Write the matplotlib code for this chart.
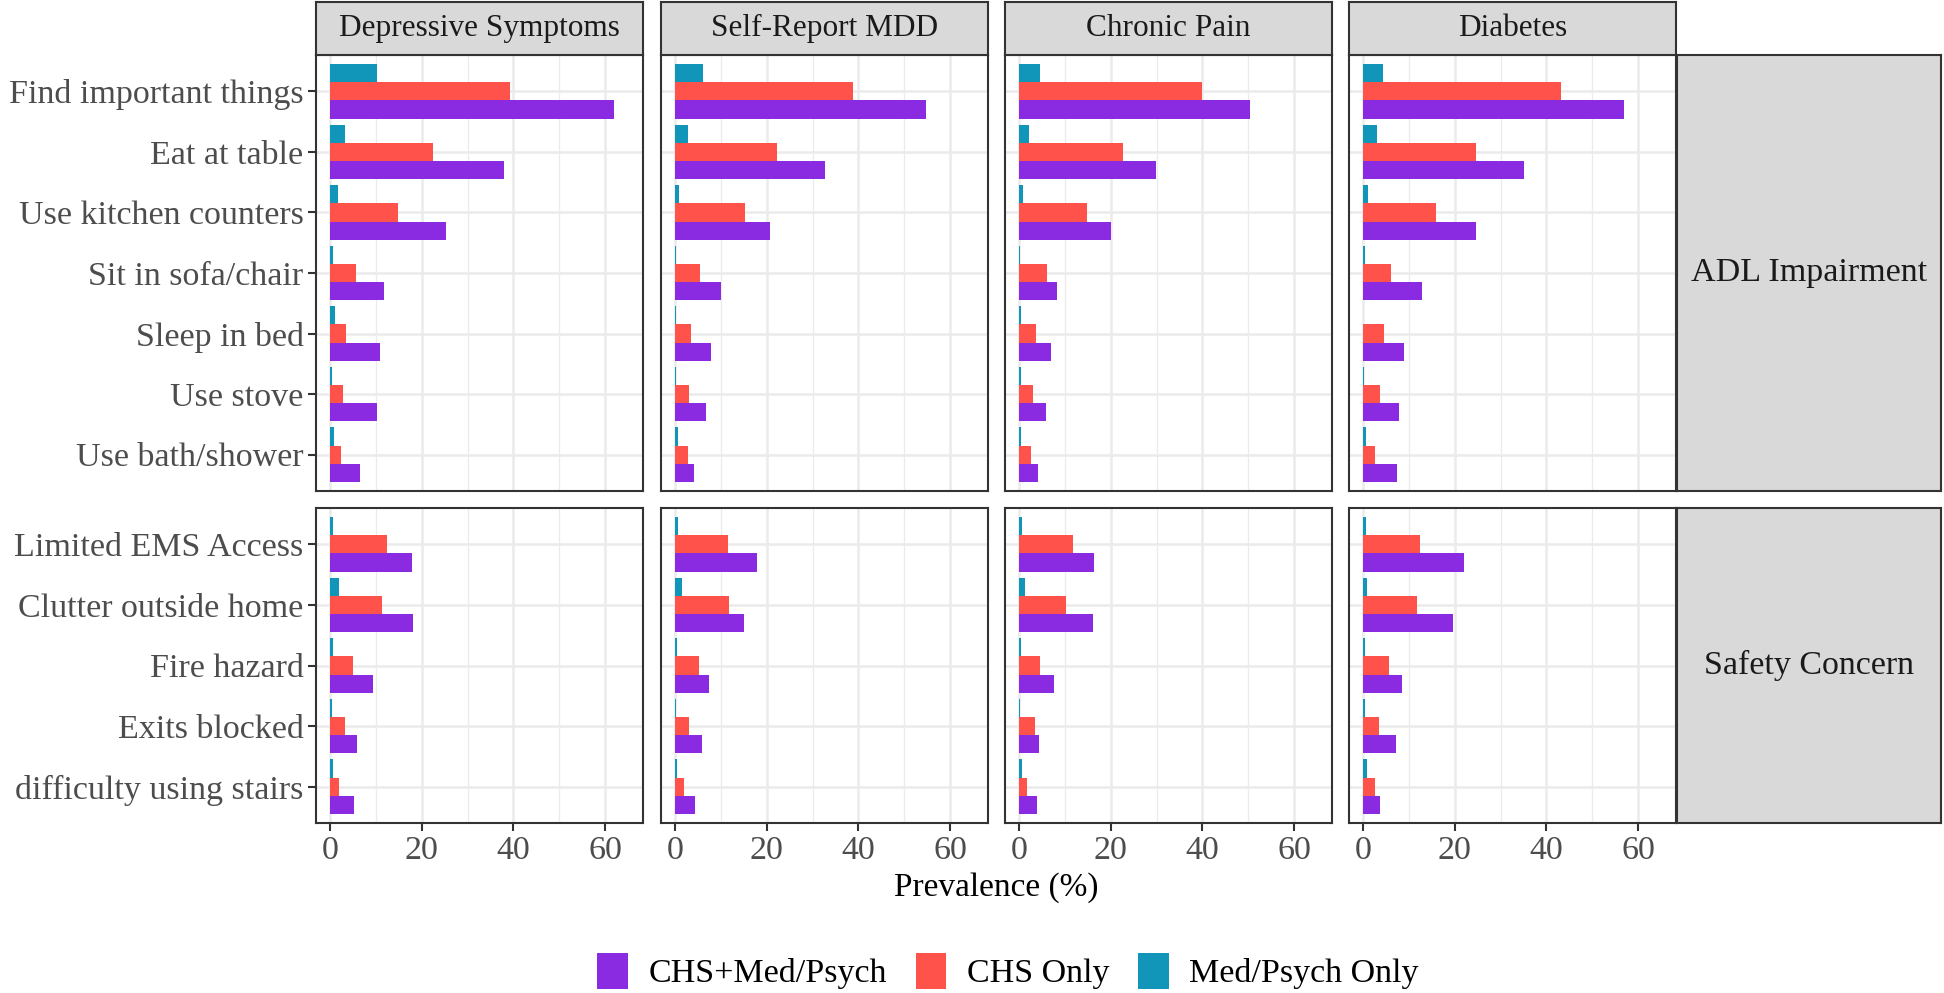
import matplotlib
matplotlib.use('Agg')
import matplotlib.pyplot as plt
from matplotlib.patches import Patch
import numpy as np

plt.rcParams['font.family'] = ['Liberation Serif', 'DejaVu Serif']

# ---- data (prevalence %) ----
conditions = ['Depressive Symptoms', 'Self-Report MDD', 'Chronic Pain', 'Diabetes']
groups = ['ADL Impairment', 'Safety Concern']
adl_items = ['Find important things', 'Eat at table', 'Use kitchen counters',
             'Sit in sofa/chair', 'Sleep in bed', 'Use stove', 'Use bath/shower']
safety_items = ['Limited EMS Access', 'Clutter outside home', 'Fire hazard',
                'Exits blocked', 'difficulty using stairs']
series = ['CHS+Med/Psych', 'CHS Only', 'Med/Psych Only']
colors = ['#8A2BE2', '#FF524B', '#1196BA']
x_major = [0, 20, 40, 60]
x_minor = [10, 30, 50]

# rows = condition, cols = item (top to bottom)
adl_both = [[61.8, 38.0, 25.2, 11.8, 10.9, 10.2, 6.5],
            [54.8, 32.6, 20.8, 10.1, 7.9, 6.8, 4.1],
            [50.3, 29.8, 20.1, 8.3, 7.0, 5.9, 4.1],
            [56.8, 35.1, 24.6, 12.8, 8.9, 7.8, 7.4]]
adl_chs = [[39.2, 22.4, 14.8, 5.8, 3.5, 2.8, 2.4],
           [38.9, 22.2, 15.2, 5.4, 3.6, 3.1, 2.8],
           [39.8, 22.8, 14.9, 6.1, 3.7, 3.1, 2.6],
           [43.2, 24.6, 15.9, 6.2, 4.6, 3.8, 2.7]]
adl_med = [[10.3, 3.4, 1.7, 0.8, 1.1, 0.5, 0.9],
           [6.1, 2.8, 0.9, 0.3, 0.3, 0.3, 0.6],
           [4.6, 2.2, 1.0, 0.2, 0.5, 0.4, 0.5],
           [4.5, 3.0, 1.2, 0.4, 0.15, 0.3, 0.6]]
safety_both = [[17.9, 18.2, 9.4, 5.9, 5.3],
               [17.8, 15.1, 7.4, 5.9, 4.5],
               [16.3, 16.2, 7.7, 4.4, 4.0],
               [22.0, 19.6, 8.5, 7.2, 3.8]]
safety_chs = [[12.4, 11.3, 5.0, 3.4, 2.1],
              [11.5, 11.8, 5.3, 3.0, 1.9],
              [11.7, 10.3, 4.7, 3.6, 1.8],
              [12.5, 11.9, 5.7, 3.5, 2.7]]
safety_med = [[0.8, 2.1, 0.7, 0.4, 0.6],
              [0.6, 1.5, 0.4, 0.2, 0.4],
              [0.6, 1.3, 0.5, 0.3, 0.7],
              [0.8, 0.9, 0.4, 0.5, 0.9]]

rows = [(adl_items, [adl_both, adl_chs, adl_med]),
        (safety_items, [safety_both, safety_chs, safety_med])]

# ---- layout in pixels ----
W, H = 1944, 993
fig = plt.figure(figsize=(W / 100, H / 100), dpi=100)

col_left = [316, 661, 1005, 1349]
col_w = 327
row_top = [55, 508]
row_h = [436, 315]
strip_top, strip_h = 2, 53
rstrip_left, rstrip_w = 1677, 264

border = '#333333'
strip_fill = '#D9D9D9'
fs = 24.5


def box(x, y, w, h):
    return [x / W, 1 - (y + h) / H, w / W, h / H]


def strip_axes(rect, label, size):
    sx = fig.add_axes(rect)
    sx.set_facecolor(strip_fill)
    sx.set_xticks([])
    sx.set_yticks([])
    for sp in sx.spines.values():
        sp.set_color(border)
        sp.set_linewidth(1.5)
    sx.text(0.5, 0.5, label, ha='center', va='center', fontsize=size,
            color='#1A1A1A', transform=sx.transAxes)


for r, (items, vals) in enumerate(rows):
    n = len(items)
    ypos = np.arange(n)[::-1]
    for c, cond in enumerate(conditions):
        ax = fig.add_axes(box(col_left[c], row_top[r], col_w, row_h[r]))
        ax.set_facecolor('white')
        for s in range(3):
            offs = -0.3 + 0.3 * s
            ax.barh(ypos + offs, vals[s][c], height=0.3, color=colors[s],
                    linewidth=0, zorder=3)
        ax.set_xlim(-3.0, 68.2)
        ax.set_ylim(-0.6, n - 0.4)
        ax.set_xticks(x_major)
        ax.set_xticks(x_minor, minor=True)
        ax.set_yticks(ypos)
        ax.grid(which='major', color='#EBEBEB', lw=1.8, zorder=0)
        ax.grid(which='minor', axis='x', color='#EBEBEB', lw=0.9, zorder=0)
        for sp in ax.spines.values():
            sp.set_color(border)
            sp.set_linewidth(1.5)
            sp.set_zorder(5)
        ax.tick_params(which='minor', length=0)
        ax.tick_params(which='major', length=6, width=1.5, color=border,
                       labelsize=fs, labelcolor='#4D4D4D', pad=3)
        if c == 0:
            ax.set_yticklabels(items)
        else:
            ax.tick_params(axis='y', length=0, labelleft=False)
        if r == 1:
            ax.set_xticklabels([str(v) for v in x_major])
        else:
            ax.tick_params(axis='x', length=0, labelbottom=False)

        if r == 0:
            strip_axes(box(col_left[c], strip_top, col_w, strip_h), cond, 22.5)

    strip_axes(box(rstrip_left, row_top[r], rstrip_w, row_h[r]), groups[r], fs)

fig.text(996 / W, 1 - 888 / H, 'Prevalence (%)', ha='center', va='center',
         fontsize=24, color='black')

handles = [Patch(facecolor=col, edgecolor='none') for col in colors]
fig.legend(handles, series, loc='center', ncol=3, frameon=False,
           bbox_to_anchor=(1008 / W, 1 - 971 / H), fontsize=fs,
           handlelength=0.9, handleheight=1.25, handletextpad=0.6,
           columnspacing=0.85)

fig.savefig('out.png', dpi=100)
